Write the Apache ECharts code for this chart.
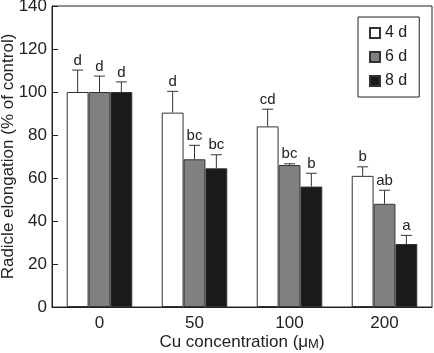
<!DOCTYPE html>
<html>
<head>
<meta charset="utf-8">
<script src="https://cdn.jsdelivr.net/npm/echarts@6/dist/echarts.min.js"></script>
<style>
  html, body { margin: 0; padding: 0; background: #fff; }
  #chart { width: 434px; height: 353px; }
</style>
</head>
<body>
<div id="chart"></div>
<script>
  var categories = ['0', '50', '100', '200'];
  var seriesNames = ['4 d', '6 d', '8 d'];

  // mean elongation (% of control) and upper error
  var day4 = [100, 90.4, 84, 61];
  var day4Err = [10.2, 9.9, 8, 4.2];
  var day6 = [100, 68.7, 66, 48];
  var day6Err = [7.4, 6.5, 0.6, 6.3];
  var day8 = [100, 64.5, 56, 29.3];
  var day8Err = [4.7, 6.3, 6.2, 4];

  // significance letters
  var letters4 = ['d', 'd', 'cd', 'b'];
  var letters6 = ['d', 'bc', 'bc', 'ab'];
  var letters8 = ['d', 'bc', 'b', 'a'];

  var yTicks = [0, 20, 40, 60, 80, 100, 120, 140];

  var FONT = '"Liberation Sans", Arial, sans-serif';
  var INK = '#222';
  var BAR_FRAC = 0.23;

  var fills = ['#ffffff', '#808080', '#1a1a1a'];
  var means = [day4, day6, day8];
  var errs = [day4Err, day6Err, day8Err];
  var letters = [letters4, letters6, letters8];

  function errorSeries(k) {
    var rows = categories.map(function (c, i) {
      return [i, means[k][i], errs[k][i], letters[k][i]];
    });
    return {
      type: 'custom',
      name: 'err' + k,
      z: 5,
      data: rows,
      encode: { x: 0, y: 1 },
      renderItem: function (params, api) {
        var i = api.value(0)
          , mean = api.value(1)
          , err = api.value(2)
          , bandW = api.size([1, 0])[0]
          , barW = bandW * BAR_FRAC
          , base = api.coord([i, mean])
          , top = api.coord([i, mean + err])
          , cx = base[0] + (k - 1) * barW
          , half = 5.5;
        var style = { stroke: '#333', lineWidth: 1 };
        return {
          type: 'group',
          children: [
            { type: 'line', shape: { x1: cx, y1: base[1], x2: cx, y2: top[1] }, style: style },
            { type: 'line', shape: { x1: cx - half, y1: top[1], x2: cx + half, y2: top[1] }, style: style },
            {
              type: 'text',
              style: {
                x: cx, y: top[1] - 2,
                text: rows[params.dataIndex][3],
                align: 'center', verticalAlign: 'bottom',
                font: '15px ' + FONT, fill: INK
              }
            }
          ]
        };
      }
    };
  }

  var chart = echarts.init(document.getElementById('chart'));

  var barSeries = seriesNames.map(function (name, k) {
    return {
      type: 'bar',
      name: name,
      data: means[k],
      barWidth: (BAR_FRAC * 100) + '%',
      barGap: '0%',
      itemStyle: { color: fills[k], borderColor: '#333', borderWidth: 1 },
      emphasis: { disabled: true }
    };
  });

  chart.setOption({
    animation: false,
    textStyle: { fontFamily: FONT },
    grid: {
      left: 52, right: 2, top: 6, bottom: 46,
      outerBoundsMode: 'none',
      containLabel: false,
      show: true, borderColor: INK, borderWidth: 1
    },
    legend: {
      data: seriesNames,
      orient: 'vertical',
      left: 358, top: 17,
      padding: [8, 12, 8, 11],
      itemWidth: 10, itemHeight: 10, itemGap: 8,
      icon: 'rect',
      borderColor: INK, borderWidth: 1,
      textStyle: { fontSize: 16, color: INK, fontFamily: FONT }
    },
    xAxis: {
      type: 'category',
      data: categories,
      name: 'Cu concentration (μ{s|M})',
      nameLocation: 'middle',
      nameGap: 27,
      nameMoveOverlap: false,
      nameTextStyle: {
        fontSize: 17, color: INK,
        rich: { s: { fontSize: 13, color: INK, verticalAlign: 'bottom' } }
      },
      axisLine: { lineStyle: { color: INK } },
      axisTick: { inside: true, length: 6, lineStyle: { color: INK } },
      axisLabel: { fontSize: 17, color: INK, margin: 8 }
    },
    yAxis: {
      type: 'value',
      min: yTicks[0], max: yTicks[yTicks.length - 1], interval: 20,
      name: 'Radicle elongation (% of control)',
      nameLocation: 'middle',
      nameGap: 35,
      nameMoveOverlap: false,
      nameTextStyle: { fontSize: 17, color: INK },
      axisLine: { show: true, lineStyle: { color: INK } },
      axisTick: { show: true, inside: true, length: 6, lineStyle: { color: INK } },
      axisLabel: { fontSize: 17, color: INK, margin: 5 },
      splitLine: { show: false }
    },
    series: barSeries.concat([errorSeries(0), errorSeries(1), errorSeries(2)])
  });
</script>
</body>
</html>
